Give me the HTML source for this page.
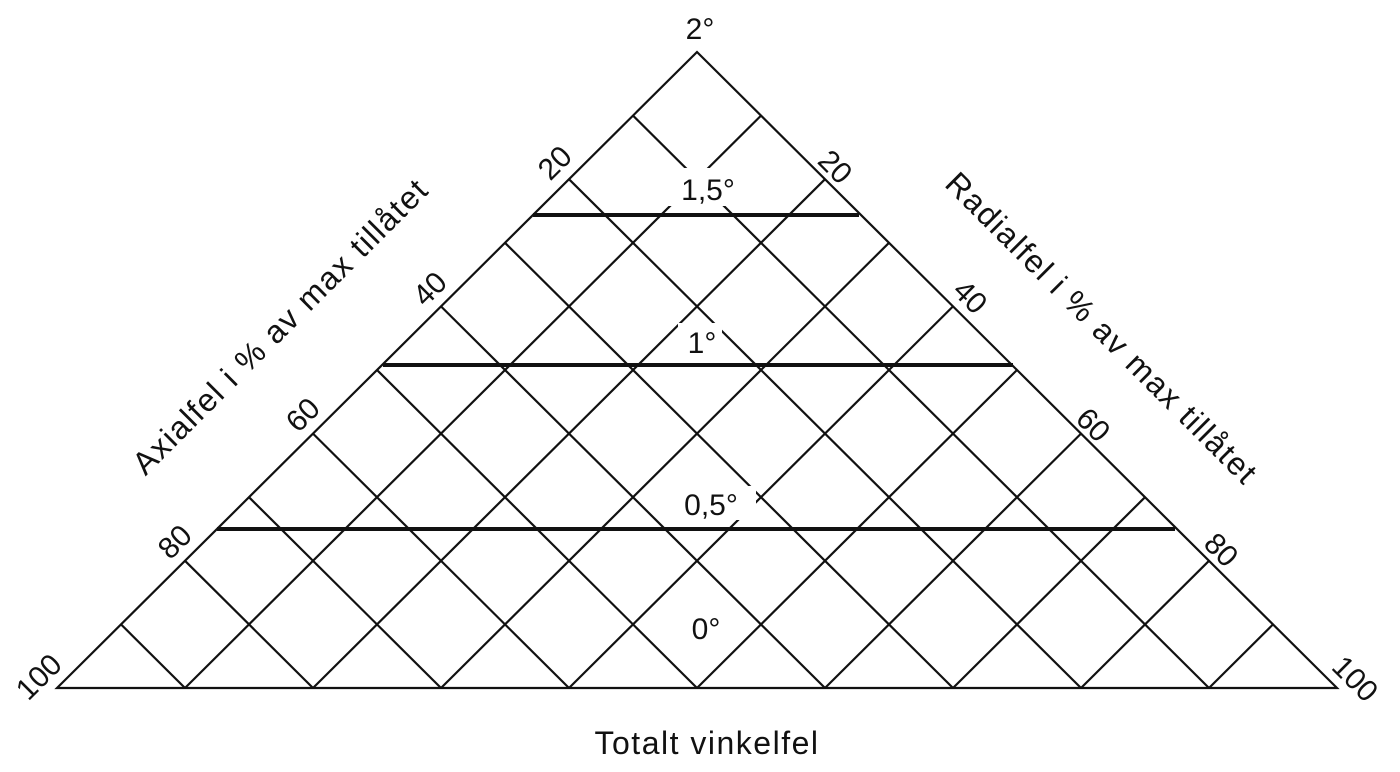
<!DOCTYPE html>
<html><head><meta charset="utf-8"><style>
html,body{margin:0;padding:0;background:#fff;width:1400px;height:772px;overflow:hidden}
text{font-family:"Liberation Sans",sans-serif;font-size:30px;fill:#111}
.t{font-size:32px;letter-spacing:1.5px}
</style></head><body>
<svg width="1400" height="772" xmlns="http://www.w3.org/2000/svg">
<g stroke="#111" stroke-width="2.2" fill="none">
<polygon points="57,688 697,52 1337,688"/>
<line x1="185" y1="688" x2="121" y2="624.4"/><line x1="185" y1="688" x2="761" y2="115.6"/>
<line x1="313" y1="688" x2="185" y2="560.8"/><line x1="313" y1="688" x2="825" y2="179.2"/>
<line x1="441" y1="688" x2="249" y2="497.2"/><line x1="441" y1="688" x2="889" y2="242.8"/>
<line x1="569" y1="688" x2="313" y2="433.6"/><line x1="569" y1="688" x2="953" y2="306.4"/>
<line x1="697" y1="688" x2="377" y2="370"/><line x1="697" y1="688" x2="1017" y2="370"/>
<line x1="825" y1="688" x2="441" y2="306.4"/><line x1="825" y1="688" x2="1081" y2="433.6"/>
<line x1="953" y1="688" x2="505" y2="242.8"/><line x1="953" y1="688" x2="1145" y2="497.2"/>
<line x1="1081" y1="688" x2="569" y2="179.2"/><line x1="1081" y1="688" x2="1209" y2="560.8"/>
<line x1="1209" y1="688" x2="633" y2="115.6"/><line x1="1209" y1="688" x2="1273" y2="624.4"/>
</g>
<g stroke="#111" stroke-width="4">
<line x1="533" y1="215" x2="859" y2="215"/>
<line x1="383" y1="365" x2="1013" y2="365"/>
<line x1="217" y1="529" x2="1175" y2="529"/>
</g>
<g fill="#fff">
<rect x="664" y="168" width="68" height="38"/>
<rect x="678" y="323" width="44" height="34"/>
<rect x="662" y="486" width="94" height="34"/>
<rect x="686" y="610" width="44" height="34"/>
</g>
<text x="700" y="39" text-anchor="middle">2°</text>
<text x="708" y="200" text-anchor="middle">1,5°</text>
<text x="702" y="353" text-anchor="middle">1°</text>
<text x="711" y="515" text-anchor="middle">0,5°</text>
<text x="706" y="639" text-anchor="middle">0°</text>
<text class="t" x="707" y="754" text-anchor="middle">Totalt vinkelfel</text>
<g text-anchor="middle">
<text transform="translate(562,170) rotate(-45)">20</text>
<text transform="translate(437,296) rotate(-45)">40</text>
<text transform="translate(310,422) rotate(-45)">60</text>
<text transform="translate(182,549) rotate(-45)">80</text>
<text transform="translate(46,684) rotate(-45)">100</text>
<text transform="translate(828,174) rotate(45)">20</text>
<text transform="translate(963,304) rotate(45)">40</text>
<text transform="translate(1086,432) rotate(45)">60</text>
<text transform="translate(1214,557) rotate(45)">80</text>
<text transform="translate(1348,686) rotate(45)">100</text>
<text class="t" transform="translate(288,334) rotate(-45)">Axialfel i % av max tillåtet</text>
<text class="t" transform="translate(1094,336) rotate(45)">Radialfel i % av max tillåtet</text>
</g>
</svg>
</body></html>
